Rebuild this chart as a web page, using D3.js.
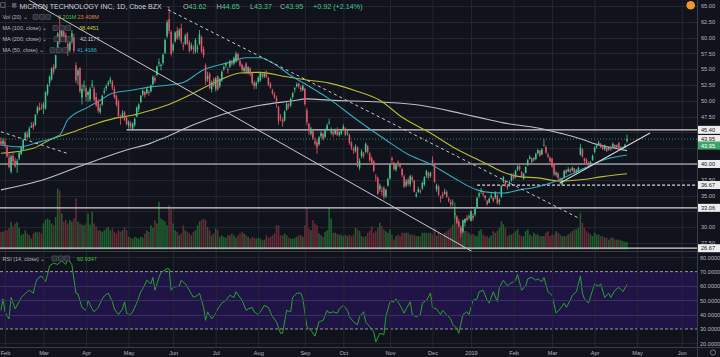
<!DOCTYPE html>
<html><head><meta charset="utf-8">
<script src="https://cdn.jsdelivr.net/npm/d3@7"></script>
<style>html,body{margin:0;padding:0;background:#11131c;}svg{display:block;font-family:"Liberation Sans",Arial,sans-serif;}</style>
</head><body><svg id="c" width="720" height="357"></svg>
<script>
// ---------- DATA ----------
// daily candles [open, high, low, close], MU, 30 Jan 2018 .. 24 Apr 2019
const jan18=[[43.6,44.2,42.8,43.1],[43.2,44.1,42.9,43.7]];
const feb18=[[43.5,44.0,42.5,42.9],[42.7,43.0,41.0,41.2],[41.0,41.9,39.3,39.5],[38.8,41.5,38.5,41.2],[41.3,41.9,40.2,40.4],[40.5,41.0,39.4,39.6],[39.9,40.8,38.6,40.5],[40.9,42.0,40.6,41.8],[41.6,42.8,41.4,42.6],[42.3,44.0,42.1,43.8],[44.1,45.1,43.7,44.9],[44.8,45.2,44.0,44.2],[44.3,45.9,44.1,45.6],[45.8,46.6,45.7,46.0],[46.3,46.7,45.4,45.8],[46.2,47.9,46.0,47.8],[48.1,49.2,47.8,48.9],[49.0,49.7,48.4,48.5],[48.9,49.6,48.6,48.8]];
const mar18=[[48.9,49.8,47.9,49.4],[48.8,51.5,48.6,51.3],[51.1,52.7,50.8,52.5],[52.8,54.0,52.3,53.8],[53.4,55.3,53.2,55.1],[55.4,55.8,54.2,54.6],[55.2,57.3,55.0,57.2],[57.8,60.9,57.6,60.6],[61.3,63.4,59.0,59.4],[59.8,61.6,59.3,61.3],[61.0,61.4,59.6,60.1],[60.4,60.8,59.1,59.5],[59.0,59.4,57.1,57.8],[58.0,59.6,57.7,59.2],[59.4,61.2,59.0,60.7],[60.0,60.6,57.6,57.9],[55.6,56.1,52.8,53.2],[54.0,55.1,52.5,54.8],[55.2,55.3,51.2,51.5],[50.5,52.6,49.4,51.9],[52.2,53.2,51.5,52.4]];
const apr18=[[52.0,52.4,49.9,50.6],[50.9,51.6,49.8,51.4],[50.2,52.2,49.9,51.9],[52.4,53.3,52.0,52.6],[51.9,52.3,49.9,50.2],[50.6,51.3,49.0,49.3],[50.0,50.3,48.1,48.4],[48.2,49.5,47.9,48.9],[49.4,51.0,49.2,50.8],[51.3,52.1,51.0,51.6],[52.0,52.6,51.6,52.3],[52.6,53.2,52.3,52.9],[53.0,53.8,52.7,53.4],[53.0,53.3,51.7,52.1],[51.9,52.3,50.3,50.6],[50.8,51.0,49.1,49.4],[49.9,50.2,47.3,47.6],[47.3,47.8,46.2,47.2],[47.6,48.5,47.2,48.1],[48.2,48.4,46.8,47.0],[47.3,47.5,46.1,46.3]];
const may18=[[46.1,46.9,45.6,46.6],[46.4,46.8,45.6,45.9],[45.6,46.6,45.3,46.4],[46.2,47.3,45.9,47.1],[47.5,49.1,47.4,48.9],[48.7,49.6,48.2,49.4],[49.8,50.9,49.6,50.8],[51.0,51.8,50.7,51.6],[51.4,51.6,50.5,50.9],[51.2,52.1,51.0,51.9],[51.4,51.7,50.8,51.3],[51.5,52.6,51.3,52.4],[52.6,54.0,52.4,53.8],[53.6,54.0,52.8,53.2],[54.1,55.6,53.9,55.4],[55.9,56.7,55.4,56.1],[55.5,55.9,54.8,55.7],[56.0,57.5,55.7,57.3],[57.6,59.8,57.4,59.6],[60.2,62.8,59.9,62.4],[62.9,64.7,60.6,61.1],[60.9,61.2,57.0,57.4]];
const jun18=[[58.0,59.2,57.6,58.9],[59.4,61.0,59.2,60.8],[61.1,61.7,59.6,59.9],[60.2,61.5,59.7,61.2],[61.5,62.2,59.0,59.4],[58.8,59.3,58.0,58.6],[59.0,60.6,58.8,60.3],[60.6,60.9,58.8,59.1],[59.3,59.6,57.6,57.9],[58.2,59.2,57.9,58.8],[58.4,58.8,57.4,58.2],[57.8,59.9,57.5,59.6],[58.2,58.9,57.6,58.4],[59.0,61.2,58.8,60.5],[60.1,60.3,57.5,57.8],[58.2,58.6,56.8,57.2],[55.6,55.9,52.5,53.1],[53.5,54.6,53.0,53.9],[54.3,54.5,51.8,52.0],[51.8,53.2,51.3,52.9],[53.4,53.7,52.2,52.4]];
const jul18=[[51.9,53.8,51.5,53.6],[53.9,54.0,51.6,51.8],[52.3,53.6,52.0,53.4],[53.2,54.8,53.0,54.6],[55.0,55.6,54.7,55.3],[55.6,56.1,55.2,55.9],[55.0,55.3,54.3,54.8],[55.4,56.5,55.2,56.3],[56.2,56.5,55.6,55.9],[55.9,57.0,55.6,56.8],[56.2,57.8,56.0,57.4],[57.4,57.6,56.2,56.5],[56.3,56.6,55.3,55.6],[55.7,55.9,54.6,54.9],[54.7,55.5,54.3,55.2],[55.9,56.1,54.2,54.6],[54.5,55.5,54.2,55.3],[55.1,55.3,53.9,54.2],[54.4,54.5,52.5,52.8],[52.9,53.2,51.8,52.3],[52.4,53.1,51.9,52.8]];
const aug18=[[53.0,53.9,52.7,53.6],[53.2,54.6,53.0,54.4],[54.3,54.5,53.5,53.9],[53.8,54.6,53.6,54.3],[54.6,54.8,53.6,53.8],[53.6,53.8,52.3,52.6],[52.7,53.0,51.9,52.1],[51.6,51.9,50.9,51.2],[51.0,51.4,50.3,50.6],[50.4,50.8,48.9,49.9],[49.0,49.2,46.2,46.8],[47.5,47.9,46.8,47.2],[47.0,47.3,45.9,46.6],[46.9,48.5,46.7,48.3],[48.6,49.8,48.4,49.5],[49.4,49.7,48.7,49.2],[49.3,50.5,49.0,50.3],[50.6,51.4,50.3,51.2],[51.8,52.2,51.3,52.0],[52.3,52.9,52.1,52.6],[52.7,52.9,51.9,52.3],[52.1,52.4,51.4,51.8],[51.7,52.6,51.5,52.4]];
const sep18=[[51.9,52.0,49.2,49.5],[48.5,48.9,46.1,46.6],[46.4,46.5,44.6,45.2],[44.8,45.9,44.5,45.6],[45.2,45.4,43.8,44.1],[43.6,44.2,42.9,43.2],[43.4,43.9,41.6,42.6],[43.1,44.4,42.9,44.2],[44.4,45.2,44.1,44.9],[44.8,45.0,43.7,44.0],[44.3,45.6,44.1,45.3],[45.5,46.4,45.2,46.1],[46.5,47.2,46.2,46.6],[45.0,45.8,44.6,45.2],[45.1,45.3,44.3,44.7],[44.8,45.6,44.6,45.4],[45.5,45.8,44.4,44.6],[44.6,45.2,44.3,45.0],[44.8,45.4,44.6,45.2]];
const oct18=[[45.5,46.3,45.3,45.9],[45.6,45.8,44.4,44.6],[44.8,45.4,44.5,44.9],[44.6,44.8,43.0,43.3],[43.4,43.6,42.2,42.6],[42.4,42.7,41.6,42.1],[42.0,43.1,41.8,42.8],[42.6,42.8,39.5,39.7],[39.4,40.9,39.0,40.5],[41.3,42.3,40.9,42.0],[41.6,41.9,40.9,41.3],[41.9,43.4,41.7,43.2],[42.8,43.0,41.6,41.9],[41.7,41.9,40.3,40.6],[40.9,41.2,39.9,40.1],[40.4,40.6,38.7,38.9],[37.9,38.4,37.2,37.8],[37.8,38.0,35.1,35.3],[36.0,36.9,35.6,36.6],[35.8,36.4,35.0,35.6],[36.2,36.5,34.4,34.8],[34.9,36.1,34.6,35.9],[36.6,37.8,36.4,37.6]];
const nov18=[[37.7,40.1,37.5,39.9],[40.9,41.2,39.9,40.6],[40.2,40.3,38.9,39.2],[39.1,40.0,38.8,39.8],[40.3,40.6,39.5,40.2],[40.0,40.2,39.3,39.6],[39.2,39.4,37.9,38.2],[38.0,38.3,36.2,36.4],[36.6,37.6,36.3,37.2],[37.5,37.8,36.5,36.9],[36.8,38.3,36.4,38.1],[37.9,38.2,37.1,37.5],[37.3,37.5,35.5,35.6],[34.9,35.6,34.7,35.2],[35.6,36.4,35.4,36.0],[35.8,36.0,35.3,35.6],[36.1,37.2,35.9,37.0],[36.8,38.1,36.5,37.9],[38.2,39.1,37.8,38.9],[38.6,38.8,37.6,37.9],[38.1,38.8,37.8,38.6]];
const dec18=[[40.6,41.2,39.8,40.2],[39.8,40.0,37.0,37.2],[36.0,36.9,35.6,36.6],[36.4,36.7,34.9,35.1],[34.8,35.0,33.9,34.6],[35.2,35.6,34.5,34.9],[35.3,36.1,35.1,35.6],[35.6,35.8,34.6,34.8],[34.5,34.8,33.9,34.2],[34.0,34.4,33.1,33.6],[33.8,34.4,33.3,33.9],[32.0,33.0,31.4,32.2],[31.6,31.9,30.5,30.7],[30.9,31.3,29.9,30.2],[29.9,30.3,28.4,29.1],[29.3,31.2,29.0,31.1],[30.7,31.4,30.1,31.3],[31.5,31.9,30.9,31.1],[31.5,32.0,31.2,31.7]];
const jan19=[[31.0,32.7,30.9,32.5],[31.8,32.2,31.0,31.4],[32.0,33.1,31.7,32.9],[33.2,34.8,33.0,34.6],[35.0,35.6,34.6,35.3],[35.6,36.2,35.3,35.9],[35.4,35.6,34.8,35.2],[35.0,35.1,34.2,34.6],[34.1,34.3,33.4,33.6],[33.9,34.7,33.8,34.5],[34.7,35.4,34.5,35.0],[34.6,34.8,33.9,34.2],[34.7,35.7,34.4,35.4],[35.0,35.2,33.6,33.8],[34.0,34.6,33.5,34.3],[34.8,36.7,34.6,36.5],[37.2,38.1,37.0,37.9],[37.2,37.4,36.4,36.8],[36.6,36.8,35.9,36.3],[36.6,37.4,36.4,37.2],[37.4,38.5,37.2,38.2]];
const feb19=[[38.3,38.6,37.5,37.8],[37.9,39.1,37.7,38.9],[39.1,39.8,38.9,39.6],[39.6,39.9,38.9,39.2],[38.7,38.9,37.8,38.1],[37.7,38.6,37.5,38.4],[38.6,39.7,38.5,39.5],[39.8,40.8,39.7,40.6],[40.8,41.4,40.7,41.1],[40.9,41.0,40.0,40.3],[40.7,41.1,40.4,40.9],[40.8,41.8,40.6,41.6],[41.7,42.4,41.5,42.2],[42.1,42.2,41.1,41.3],[41.5,42.5,41.4,42.3],[42.9,43.9,42.8,43.0],[42.7,42.9,41.6,41.8],[41.5,41.8,40.9,41.2],[41.0,41.2,40.2,40.4]];
const mar19=[[40.8,41.0,39.4,39.6],[39.9,40.1,38.1,38.4],[38.3,38.9,38.0,38.6],[38.5,38.7,37.6,37.8],[37.6,37.9,36.8,37.2],[36.7,37.8,36.5,37.6],[37.8,39.1,37.7,38.9],[39.0,39.2,38.3,38.6],[38.8,39.5,38.7,39.2],[39.1,39.3,38.5,38.8],[39.0,39.6,38.8,39.4],[39.3,39.4,38.5,38.7],[38.8,39.2,38.5,39.0],[38.9,39.6,38.7,39.4],[41.5,43.2,41.3,42.6],[42.3,42.5,41.0,41.2],[40.9,41.0,40.1,40.5],[40.7,40.9,39.9,40.1],[40.2,40.4,39.4,39.8],[39.9,40.5,39.7,40.3],[40.6,41.5,40.5,41.3]];
const apr19=[[41.9,42.8,41.7,42.6],[42.7,43.2,42.4,42.9],[43.1,43.7,43.0,43.4],[43.2,43.3,42.5,42.7],[42.8,43.0,42.2,42.4],[42.3,43.1,42.1,42.9],[42.6,42.8,41.9,42.1],[42.3,42.8,42.1,42.6],[42.7,42.9,42.1,42.3],[42.6,43.4,42.5,43.2],[43.0,43.1,42.3,42.5],[42.7,43.1,42.5,42.9],[43.3,43.5,42.1,42.2],[42.3,42.8,42.1,42.6],[42.4,42.8,42.2,42.6],[42.7,43.2,42.5,43.03],[43.62,44.65,43.37,43.95]];

// daily volume, millions
const volume=[57,57,
62,62,70,89,75,84,89,70,46,50,62,52,46,35,52,57,55,57,52,
84,95,100,95,84,78,105,197,190,116,90,95,84,95,90,100,165,90,84,80,78,
84,116,80,121,84,75,62,62,57,62,68,73,62,68,57,52,62,57,62,73,62,
41,38,35,41,38,35,41,38,52,62,57,78,70,95,84,154,100,95,90,78,143,130,
84,62,57,46,52,78,62,57,52,46,57,62,78,90,95,100,95,73,62,46,52,
68,62,41,46,41,38,46,46,52,46,38,46,52,57,52,46,41,35,41,38,35,
38,35,30,32,46,38,41,46,52,78,78,46,46,52,46,38,35,35,38,41,46,46,41,
78,132,68,62,95,84,78,52,46,41,57,62,134,100,54,54,50,48,48,
43,48,43,48,43,48,70,65,60,43,40,43,54,60,75,54,60,70,86,75,65,59,54,
65,48,32,43,48,43,54,54,54,54,48,48,48,43,43,43,54,54,54,54,54,
48,70,43,54,48,43,54,59,65,70,80,151,108,86,75,65,60,59,54,
48,50,45,43,60,65,48,43,43,38,45,59,54,60,70,91,82,70,43,48,48,
54,59,65,48,43,43,59,65,48,43,54,48,48,43,43,43,54,59,43,
48,48,59,54,48,43,43,43,48,54,59,65,65,70,118,86,70,59,54,48,43,
54,48,48,43,43,38,38,32,38,38,32,32,32,30,27,25,23.4];

// moving averages sampled at bar index [index, value]
const ma50=[[0,43.0],[9,42.7],[19,43.5],[29,44.6],[33,47.0],[43,49.0],[49,50.1],[55,51.2],[65,51.7],[74,52.2],[83,52.5],[90,52.9],[100,54.9],[112,56.0],[121,56.8],[128,56.8],[134,56.0],[144,53.8],[151,52.5],[162,50.3],[174,47.4],[190,43.8],[200,41.7],[213,39.8],[223,37.9],[235,35.9],[241,35.5],[248,35.4],[256,35.9],[265,36.4],[273,37.2],[281,38.3],[289,39.5],[297,40.6],[309,41.42]];
const ma100=[[0,41.7],[16,42.5],[24,43.8],[34,44.9],[49,46.6],[57,47.3],[65,47.7],[74,48.5],[81,49.2],[95,51.2],[108,53.3],[118,54.4],[128,54.5],[141,53.8],[151,53.3],[162,52.8],[175,51.6],[187,50.1],[198,47.4],[212,44.9],[223,42.7],[234,40.9],[241,39.8],[248,38.7],[256,38.0],[265,37.8],[276,37.3],[286,37.5],[297,38.0],[309,38.45]];
const ma200=[[0,35.9],[21,37.5],[42,40.0],[62,42.2],[74,43.3],[81,44.2],[95,46.2],[112,48.1],[128,49.3],[144,50.0],[151,50.3],[162,50.1],[187,49.8],[207,49.3],[227,48.0],[241,47.0],[248,46.5],[265,45.7],[277,44.8],[286,44.0],[294,43.1],[301,42.6],[309,42.12]];

// RSI(14) sampled at bar index [index, value]
const rsi=[[0,43],[1,51],[2,42],[4,37],[5,52],[7,44],[9,49],[10,52],[13,56],[14,57],[16,55],[17,61.5],[18,65],[20,67],[22,63],[23,68],[24,74],[26,76],[28,75],[30,77.6],[32,75],[33,79],[35,75],[37,55],[38,54.5],[40,45],[42,43],[43,50],[45,44],[46,42],[48,45],[50,51],[51,53],[53,55],[55,49],[56,44],[58,40],[60,44],[61,49],[62,41],[64,40],[65,42],[67,48],[69,56],[70,58],[72,64],[74,61.5],[75,66],[76,57],[78,66],[79,69.5],[82,72],[83,72],[84,57],[85,59],[88,60],[89,64],[91,61.5],[93,57],[95,52],[97,53.5],[98,55],[100,45],[101,36],[102,42],[104,37],[106,41],[107,44],[109,48],[111,50],[113,53.5],[115,52],[116,56],[119,50],[121,43],[122,44],[124,45],[125,42],[127,40],[129,44],[130,46.5],[132,45],[134,38.5],[136,35],[138,27],[139,27],[141,43],[143,42],[144,52],[146,55],[148,55],[149,51],[151,31.6],[153,29],[155,25],[157,35],[159,36],[161,43],[162,41],[164,42],[166,41],[167,44],[169,46.5],[171,43],[172,38.5],[174,35],[176,33],[177,38.5],[179,42],[180,35],[182,31.6],[184,28],[185,21],[187,27],[189,26],[190,38.5],[192,49],[194,49],[195,51],[197,46.5],[199,41],[200,44],[202,49],[203,40],[205,38.5],[207,40],[208,48],[210,50],[212,55],[213,45],[215,44],[217,40],[218,43],[220,40],[222,37],[223,33],[225,30.5],[226,27],[228,40],[230,42],[231,40],[233,50],[235,51],[236,56],[238,57],[240,50],[241,48],[243,56],[245,49],[246,59],[248,64],[250,60],[251,61.5],[253,63],[254,64],[255,68],[257,57],[259,60],[260,65],[262,66],[264,64],[265,65],[267,63],[268,66],[270,56],[272,53.5],[274,41],[276,44],[278,48],[279,45],[281,50],[282,53.5],[284,56],[286,67],[287,55],[288,51],[290,48],[292,57],[293,61.5],[295,60],[296,61.5],[298,52],[300,55],[301,52],[303,57],[305,59],[307,56],[309,60.93]];

// axis ticks
const monthIdx=[2,21,42,63,85,106,127,150,169,192,213,232,253,272,293,314,336];
const monthLabels=["Feb","Mar","Apr","May","Jun","Jul","Aug","Sep","Oct","Nov","Dec","2019","Feb","Mar","Apr","May","Jun"];
const priceGrid=[65,62.5,60,57.5,55,52.5,50,47.5,45,42.5,40,37.5,35,32.5,30,27.5];
const priceLabels=[65,62.5,60,57.5,55,52.5,50,47.5,37.5,35,30,27.5];
const rsiTicks=[80,70,60,50,40,30,20];
// drawn levels and trend lines [index, price]
const levels=[{p:45.40,from:62},{p:40.00,from:0},{p:36.67,from:235,dash:true},{p:33.06,from:0},{p:26.67,from:0}];
const lastPrice=43.95;
const trendSolid=[[14,65.9],[240,24.8]];
const trendDashed=[[82.5,64.4],[284.8,31.5]];
const trendLeft=[[0,45.1],[32.6,41.7]];
const trendUp=[[276,37.0],[320.4,44.9]];

// ---------- CHART ----------
const ohlc=[].concat(jan18,feb18,mar18,apr18,may18,jun18,jul18,aug18,sep18,oct18,nov18,dec18,jan19,feb19,mar19,apr19);
const bars=ohlc.map((d,i)=>({i,o:d[0],h:d[1],l:d[2],c:d[3],v:volume[i]}));

const svg=d3.select("#c");
const PR=697, MB=251, RT=252, RB=347;
const x=d3.scaleLinear().domain([2,309]).range([5,627]);
const y=d3.scaleLinear().domain([26.23,65.95]).range([MB,0]);
const yv=d3.scaleLinear().domain([0,200]).range([249.5,187.5]);
const yr=d3.scaleLinear().domain([20,80]).range([343.3,257.3]);

const BG="#11131c", GRID="#23262f", TXT="#b2b5be";
const GREEN="#3fc98d", RED="#e4566c";
svg.append("rect").attr("width",720).attr("height",357).attr("fill",BG);

const defs=svg.append("defs");
defs.append("clipPath").attr("id","cm").append("rect").attr("x",0).attr("y",0).attr("width",PR).attr("height",MB);
defs.append("clipPath").attr("id","cr").append("rect").attr("x",0).attr("y",RT).attr("width",PR).attr("height",RB-RT);

// RSI band
const rsiG=svg.append("g").attr("clip-path","url(#cr)");
rsiG.append("rect").attr("x",0).attr("width",PR).attr("y",yr(70)).attr("height",yr(30)-yr(70)).attr("fill","#1f1445");

// grid
const gridG=svg.append("g");
gridG.selectAll("line.v").data(monthIdx).join("line")
  .attr("x1",d=>x(d)+0.5).attr("x2",d=>x(d)+0.5).attr("y1",0).attr("y2",RB)
  .attr("stroke",GRID).attr("stroke-width",1);
gridG.selectAll("line.h").data(priceGrid).join("line")
  .attr("x1",0).attr("x2",PR).attr("y1",d=>Math.round(y(d))+0.5).attr("y2",d=>Math.round(y(d))+0.5)
  .attr("stroke",GRID);
gridG.selectAll("line.r").data([80,60,50,40,20]).join("line")
  .attr("x1",0).attr("x2",PR).attr("y1",d=>Math.round(yr(d))+0.5).attr("y2",d=>Math.round(yr(d))+0.5)
  .attr("stroke",d=>(d<70&&d>30)?"#3a2f66":GRID);

const main=svg.append("g").attr("clip-path","url(#cm)");

// volume
main.selectAll("rect.vol").data(bars).join("rect")
  .attr("x",d=>x(d.i)-0.8).attr("width",1.6)
  .attr("y",d=>yv(d.v)).attr("height",d=>yv(0)-yv(d.v))
  .attr("fill",d=>d.c>=d.o?"#1f5f2e":"#632a37");

// horizontal levels
main.selectAll("line.lvl").data(levels).join("line")
  .attr("x1",d=>d.from?x(d.from):0).attr("x2",PR)
  .attr("y1",d=>y(d.p)).attr("y2",d=>y(d.p))
  .attr("stroke","#d6d6d6").attr("stroke-width",1.2)
  .attr("stroke-dasharray",d=>d.dash?"3,2":null);
main.append("line").attr("x1",0).attr("x2",PR).attr("y1",y(lastPrice)).attr("y2",y(lastPrice))
  .attr("stroke","#2f8f5a").attr("stroke-dasharray","1,2").attr("stroke-width",1);

// moving averages
const maLine=d3.line().x(d=>x(d[0])).y(d=>y(d[1])).curve(d3.curveMonotoneX);
[[ma200,"#bdbdc4"],[ma100,"#bcbc2e"],[ma50,"#2aaec0"]].forEach(([arr,col])=>{
  main.append("path").attr("d",maLine(arr)).attr("fill","none").attr("stroke",col).attr("stroke-width",1.1);
});

// candles
const cg=main.append("g");
cg.selectAll("line.w").data(bars).join("line")
  .attr("x1",d=>x(d.i)).attr("x2",d=>x(d.i)).attr("y1",d=>y(d.h)).attr("y2",d=>y(d.l))
  .attr("stroke",d=>d.c>=d.o?GREEN:RED).attr("stroke-width",0.8);
cg.selectAll("rect.b").data(bars).join("rect")
  .attr("x",d=>x(d.i)-0.75).attr("width",1.5)
  .attr("y",d=>y(Math.max(d.o,d.c)))
  .attr("height",d=>Math.max(0.8,Math.abs(y(d.o)-y(d.c))))
  .attr("fill",d=>d.c>=d.o?GREEN:RED);

// trend lines
const tl=d3.line().x(d=>x(d[0])).y(d=>y(d[1]));
main.append("path").attr("d",tl(trendSolid)).attr("stroke","#c9c9cf").attr("stroke-width",1).attr("fill","none");
main.append("path").attr("d",tl(trendDashed)).attr("stroke","#c9c9cf").attr("stroke-width",1).attr("stroke-dasharray","3,3").attr("fill","none");
main.append("path").attr("d",tl(trendLeft)).attr("stroke","#c9c9cf").attr("stroke-width",1).attr("stroke-dasharray","3,3").attr("fill","none");
main.append("path").attr("d",tl(trendUp)).attr("stroke","#d6d6d6").attr("stroke-width",1.1).attr("fill","none");

// RSI
rsiG.selectAll("line.rd").data([70,30]).join("line")
  .attr("x1",0).attr("x2",PR).attr("y1",d=>yr(d)).attr("y2",d=>yr(d))
  .attr("stroke","#9a96aa").attr("stroke-dasharray","3,2");
const rl=d3.line().x(d=>x(d[0])).y(d=>yr(d[1]));
rsiG.append("path").attr("d",rl(rsi)).attr("fill","none").attr("stroke","#27a42b").attr("stroke-width",1);

// separators
svg.append("line").attr("x1",0).attr("x2",720).attr("y1",MB+0.5).attr("y2",MB+0.5).attr("stroke","#3a3d48");
svg.append("line").attr("x1",0).attr("x2",720).attr("y1",RB+0.5).attr("y2",RB+0.5).attr("stroke","#3a3d48");
svg.append("line").attr("x1",PR+0.5).attr("x2",PR+0.5).attr("y1",0).attr("y2",357).attr("stroke","#3a3d48");

// price axis
const pa=svg.append("g").attr("transform",`translate(${PR},0)`)
  .call(d3.axisRight(y).tickValues(priceLabels).tickFormat(d3.format(".2f")).tickSize(0).tickPadding(4));
pa.select(".domain").remove();
pa.selectAll("text").attr("fill",TXT).attr("font-size","5.6px").attr("font-family","Liberation Sans, Arial, sans-serif");

// rsi axis
const ra=svg.append("g").attr("transform",`translate(${PR},0)`)
  .call(d3.axisRight(yr).tickValues(rsiTicks).tickFormat(d3.format(".4f")).tickSize(0).tickPadding(3));
ra.select(".domain").remove();
ra.selectAll("text").attr("fill",TXT).attr("font-size","5.6px").attr("font-family","Liberation Sans, Arial, sans-serif");

// level labels
const lblData=[{p:45.40,t:"45.40"},{p:lastPrice,t:"43.95"},{p:40.00,t:"40.00"},{p:36.67,t:"36.67"},{p:33.06,t:"33.06"},{p:26.67,t:"26.67"}];
const lg=svg.append("g");
lblData.forEach(d=>{
  const yy=y(d.p);
  lg.append("rect").attr("x",PR+1).attr("y",yy-4).attr("width",22).attr("height",8).attr("fill","#ececec");
  lg.append("text").attr("x",PR+4).attr("y",yy+2).attr("font-size","5.6px").attr("fill","#131722").text(d.t);
});
lg.append("rect").attr("x",PR+1).attr("y",y(lastPrice)+2.5).attr("width",22).attr("height",8).attr("fill","#3ba56a");
lg.append("text").attr("x",PR+4).attr("y",y(lastPrice)+8.5).attr("font-size","5.6px").attr("fill","#ffffff").text("43.95");

// time axis
const ta=svg.append("g").attr("transform",`translate(0,${RB})`)
  .call(d3.axisBottom(x).tickValues(monthIdx).tickFormat((d,i)=>monthLabels[i]).tickSize(0).tickPadding(4));
ta.select(".domain").remove();
ta.selectAll("text").attr("fill",TXT).attr("font-size","5.6px").attr("font-family","Liberation Sans, Arial, sans-serif");

// settings icon & earnings marker
svg.append("circle").attr("cx",713).attr("cy",352.5).attr("r",2.6).attr("fill","none").attr("stroke","#8a8d96").attr("stroke-width",0.8);
svg.append("circle").attr("cx",690.7).attr("cy",5.2).attr("r",4.3).attr("fill","#f0962a");

// legends
const L=svg.append("g").attr("font-family","Liberation Sans, Arial, sans-serif");
function icons(x0,yc){
  for(let k=0;k<3;k++){
    L.append("rect").attr("x",x0+k*6.3).attr("y",yc-2.5).attr("width",5).attr("height",5).attr("rx",0.6)
      .attr("fill","#2a2d37").attr("stroke","#6b6e78").attr("stroke-width",0.5);
  }
}
// title row
L.append("rect").attr("x",0.8).attr("y",2.8).attr("width",4.2).attr("height",4.6).attr("fill","none").attr("stroke","#8a8d96").attr("stroke-width",0.6);
L.append("rect").attr("x",12).attr("y",3).attr("width",4.4).attr("height",4.6).attr("fill","#5a5d66");
L.append("text").attr("x",19.5).attr("y",9).attr("font-size","7px").attr("fill","#d1d4dc")
  .text("MICRON TECHNOLOGY INC, 1D, Cboe BZX");
L.append("text").attr("x",165.5).attr("y",8.2).attr("font-size","5.5px").attr("fill","#9598a1").text("⌄");
const ohlcLbl=[["O","43.62",183],["H","44.65",216.5],["L","43.37",250],["C","43.95",280]];
ohlcLbl.forEach(([k,v,xx])=>{
  const t=L.append("text").attr("x",xx).attr("y",9).attr("font-size","7.2px");
  t.append("tspan").attr("fill","#b2b5be").text(k);
  t.append("tspan").attr("fill",GREEN).text(v);
});
L.append("text").attr("x",313).attr("y",9).attr("font-size","7.2px").attr("fill",GREEN).text("+0.92 (+2.14%)");

const rows=[
 {t:"Vol (20) ⌄",y:19,ix:33,vals:[["0.201M","#4cc04a",58],["23.408M","#d9823f",77.5]]},
 {t:"MA (100, close) ⌄",y:30,ix:53,vals:[["38.4451","#cfcf36",79]]},
 {t:"MA (200, close) ⌄",y:41.2,ix:54,vals:[["42.1177","#c8c8cc",80]]},
 {t:"MA (50, close) ⌄",y:52.2,ix:50,vals:[["41.4166","#2ab4c8",77]]},
 {t:"RSI (14, close) ⌄",y:260.5,ix:52,vals:[["60.9347","#3cc43c",77]]}
];
rows.forEach(r=>{
  L.append("text").attr("x",2.5).attr("y",r.y).attr("font-size","5.5px").attr("fill","#b2b5be").text(r.t);
  icons(r.ix,r.y-2.1);
  r.vals.forEach(([v,c,xx])=>L.append("text").attr("x",xx).attr("y",r.y).attr("font-size","5.5px").attr("fill",c).text(v));
});
</script></body></html>
